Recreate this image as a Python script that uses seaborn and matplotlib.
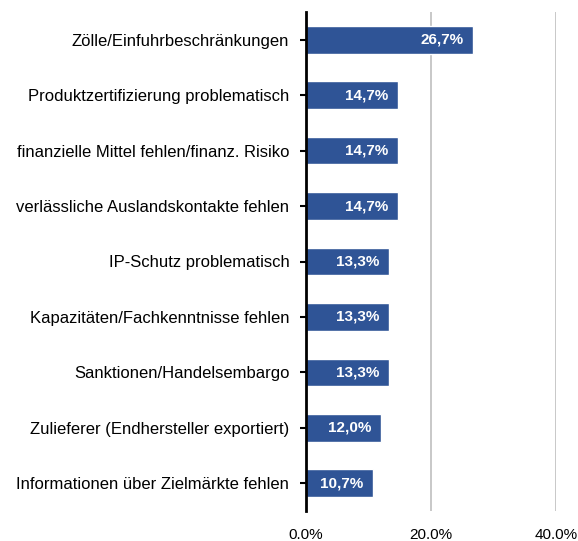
import matplotlib
matplotlib.use("Agg")
import matplotlib.pyplot as plt
import seaborn as sns
import pandas as pd
from matplotlib.ticker import FuncFormatter

categories = [
    "Zölle/Einfuhrbeschränkungen",
    "Produktzertifizierung problematisch",
    "finanzielle Mittel fehlen/finanz. Risiko",
    "verlässliche Auslandskontakte fehlen",
    "IP-Schutz problematisch",
    "Kapazitäten/Fachkenntnisse fehlen",
    "Sanktionen/Handelsembargo",
    "Zulieferer (Endhersteller exportiert)",
    "Informationen über Zielmärkte fehlen",
]
values = [26.7, 14.7, 14.7, 14.7, 13.3, 13.3, 13.3, 12.0, 10.7]
xticks = [0, 20, 40]

sns.set_theme(style="white")
plt.rcParams['font.family'] = ['Liberation Sans Narrow', 'Liberation Sans', 'DejaVu Sans']

df = pd.DataFrame({"cat": categories, "val": values})

fig = plt.figure(figsize=(5.78, 5.41), dpi=100)
ax = fig.add_axes([306/578, 1-511/541, (556-306)/578, (511-12)/541])

sns.barplot(data=df, x="val", y="cat", color="#2F5496", saturation=1,
            width=0.5, ax=ax, orient="h")

ax.set_xlim(0, 40)
ax.set_ylim(len(categories)-0.5, -0.5)
ax.set_xticks(xticks)
ax.xaxis.set_major_formatter(FuncFormatter(lambda v, p: f"{v:.1f}%"))
ax.set_xlabel("")
ax.set_ylabel("")
for x in xticks[1:]:
    ax.axvline(x, color="#BFBFBF", lw=1.2, zorder=0)

for s in ["top", "right", "bottom"]:
    ax.spines[s].set_visible(False)
ax.spines["left"].set_color("black")
ax.spines["left"].set_linewidth(2)

ax.tick_params(axis="y", which="major", left=True, length=4, width=1.5,
               color="black", pad=8, labelsize=12, labelcolor="black")
ax.tick_params(axis="x", bottom=False, pad=6, labelsize=11, labelcolor="black")

for i, v in enumerate(values):
    ax.text(v - 1.5, i, f"{v:.1f}%".replace(".", ","), ha="right", va="center",
            color="white", fontsize=11, fontweight="bold")

fig.savefig("out.png", dpi=100)
